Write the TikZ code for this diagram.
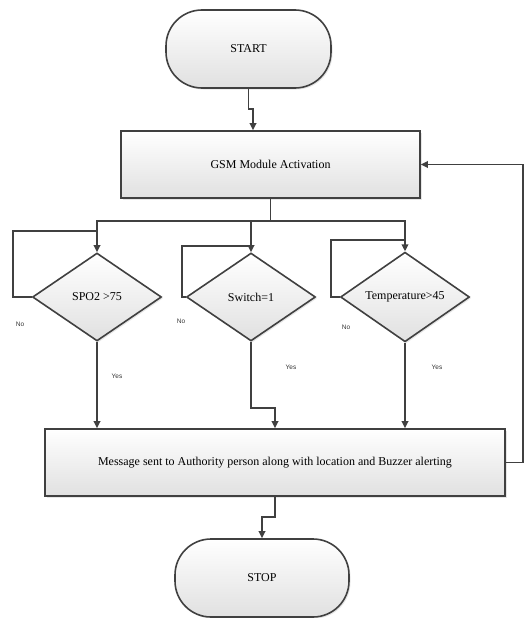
\documentclass[tikz,border=0pt]{standalone}
\usepackage{fontspec}
\setmainfont{Liberation Serif}
\newfontfamily\labelfont{Liberation Sans}
\usetikzlibrary{arrows.meta,shapes.geometric,shadows}
\definecolor{edgegray}{HTML}{404040}
\tikzset{
  base/.style={align=center, font=\fontsize{12}{14}\selectfont, text=black, draw=edgegray, line width=1.6pt, top color=white, bottom color=black!12, drop shadow={opacity=0.2, shadow xshift=1.5pt, shadow yshift=-1.5pt}},
  terminal/.style={base, rectangle, rounded corners=36pt, minimum width=165pt, minimum height=78pt},
  process/.style={base, rectangle, minimum height=67pt},
  decision/.style={base, diamond, inner sep=0pt, minimum width=129pt, minimum height=88pt},
  line/.style={-{Triangle[length=7pt,width=6.5pt]}, line width=1.8pt, draw=edgegray},
  wire/.style={line width=1.8pt, draw=edgegray},
  label_text/.style={font=\labelfont\fontsize{6.5}{8}\selectfont, text=black!80, inner sep=1pt}
}

\begin{document}
\begin{tikzpicture}[x=1pt, y=-1pt]
  \useasboundingbox (0,0) rectangle (529,618);
  % Nodes
  \node[terminal] (start) at (248.5,49) {START};
  \node[process, minimum width=299pt] (gsm) at (270.5,164.5) {GSM Module Activation};
  \node[decision] (spo) at (97,297) {SPO2 >75};
  \node[decision] (switch) at (251,297) {Switch=1};
  \node[decision] (temp) at (405,297) {Temperature>45};
  \node[process, minimum width=460pt] (msg) at (275,462.5) {Message sent to Authority person along with location and Buzzer alerting};
  \node[terminal, minimum width=174pt] (stop) at (262,578) {STOP};

  % Labels
  \node[label_text] (no1) at (20,324) {No};
  \node[label_text] (no2) at (181,321) {No};
  \node[label_text] (no3) at (346,327) {No};
  \node[label_text] (yes1) at (117,376) {Yes};
  \node[label_text] (yes2) at (291,367) {Yes};
  \node[label_text] (yes3) at (437,367) {Yes};

  % Edges
  \draw[line] (start.south) -- ++(0,20) -| ([xshift=-17.5pt]gsm.north);
  \draw[wire] (gsm.south) -- ++(0,22) coordinate (split);
  \draw[line] (split) -| (spo.north);
  \draw[line] (split) -| (switch.north);
  \draw[line] (split) -| (temp.north);

  % No loops
  \draw[wire] (spo.west) -- ++(-19,0) |- ([yshift=21pt]spo.north);
  \draw[wire] (switch.west) -- ++(-4,0) |- ([yshift=6pt]switch.north);
  \draw[wire] (temp.west) -- ++(-9,0) |- ([yshift=11pt]temp.north);

  % Yes branches
  \draw[line] (spo.south) -- (spo.south |- msg.north);
  \draw[line] (switch.south) -- ++(0,66) -| (msg.north);
  \draw[line] (temp.south) -- (temp.south |- msg.north);

  \draw[line] (msg.south) -- ++(0,20) -| (stop.north);

  % Feedback
  \draw[line] (msg.east) -- ++(17,0) |- (gsm.east);
\end{tikzpicture}
\end{document}
